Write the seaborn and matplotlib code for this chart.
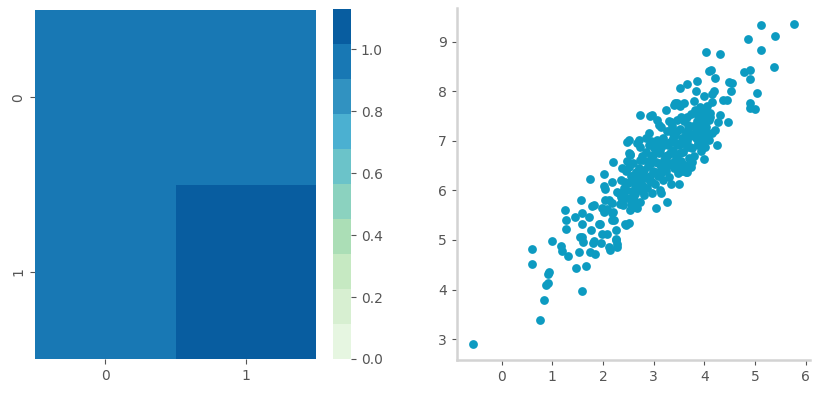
import numpy as np
import matplotlib
matplotlib.use("Agg")
import matplotlib.pyplot as plt
import seaborn as sns

# covariance-like 2x2 matrix shown on the left
MATRIX = [[0.98, 0.95],
          [0.95, 1.13]]
MATRIX_LABELS = ["0", "1"]

# scatter points: outer / sparse points
X_EDGE = [-0.57, 0.75, 0.84, 0.88, 0.92, 0.93, 0.91, 1.58, 0.59, 0.59, 0.99, 1.18, 1.19, 1.31,
          1.46, 1.66, 1.52, 1.56, 1.26, 1.28, 1.28, 1.44, 1.59, 1.58, 1.54, 1.60, 1.76, 1.80,
          1.75, 1.85, 1.72, 1.79, 1.93, 1.98, 2.08, 1.96, 2.11, 2.13, 2.25, 2.26, 2.28, 2.21,
          2.19, 2.08, 1.98, 2.05, 2.18, 2.04, 1.75, 2.46, 2.51, 2.02, 2.20, 2.53, 1.82, 2.02,
          2.02, 1.95, 2.18, 2.18, 2.11, 2.18, 2.28, 1.59, 1.82, 2.25, 2.28, 2.51, 2.68, 2.51,
          2.91, 3.04, 3.27, 3.50, 3.99, 4.26, 3.66, 3.14, 2.81, 2.44, 2.74, 2.61, 2.35, 4.09,
          4.22, 4.78, 4.91, 4.91, 5.05, 4.91, 4.91, 4.49, 4.55, 4.52, 4.19, 4.36, 4.44, 4.16,
          3.99, 3.83, 3.86, 3.66, 3.53, 3.79, 3.24, 2.93, 2.74, 3.47, 3.96, 4.12, 4.32, 4.47,
          4.03, 3.10, 5.11, 5.77, 4.86, 5.40, 5.11, 5.38, 4.03, 4.32, 4.14, 5.01, 3.40, 3.53,
          2.97, 2.48, 2.71, 2.94, 2.54, 3.07, 3.14, 3.34, 3.43, 3.60, 3.66, 4.09, 4.16, 3.73,
          3.63, 4.16, 4.02, 4.12]
Y_EDGE = [2.90, 3.39, 3.78, 4.10, 4.13, 4.35, 4.32, 3.98, 4.81, 4.51, 4.97, 4.87, 4.78, 4.67,
          4.44, 4.47, 4.76, 5.81, 5.60, 5.41, 5.23, 5.47, 5.54, 5.33, 5.06, 4.96, 5.21, 4.94,
          4.76, 4.72, 5.47, 5.68, 5.33, 5.13, 5.13, 4.94, 4.86, 4.79, 5.21, 4.99, 4.91, 5.41,
          5.57, 5.62, 5.64, 5.81, 5.74, 6.02, 6.23, 5.30, 5.34, 6.33, 6.57, 6.74, 5.70, 6.08,
          5.57, 5.33, 5.54, 5.40, 5.81, 6.18, 5.97, 5.05, 4.98, 5.01, 4.86, 7.02, 6.96, 6.75,
          7.16, 5.64, 5.77, 6.13, 6.63, 6.92, 6.38, 5.94, 5.91, 5.33, 5.77, 5.67, 5.87, 8.41,
          8.27, 8.39, 8.44, 8.24, 7.97, 7.77, 7.67, 8.18, 8.17, 8.00, 8.00, 7.83, 7.83, 7.78,
          7.90, 8.00, 8.20, 8.14, 8.07, 7.80, 7.63, 7.50, 7.53, 7.77, 7.63, 7.56, 7.53, 7.39,
          7.02, 7.33, 9.33, 9.36, 9.05, 9.11, 8.83, 8.50, 8.79, 8.75, 8.43, 7.65, 7.73, 7.70,
          7.53, 6.97, 7.02, 6.99, 6.72, 7.43, 7.29, 7.39, 7.77, 7.77, 7.49, 7.02, 7.16, 6.48,
          6.38, 7.94, 7.57, 7.49]

# dense core of the cloud
X_CORE = [2.32, 2.36, 2.40, 2.42, 2.45, 2.48, 2.50, 2.53, 2.55, 2.57, 2.60, 2.62, 2.64, 2.66,
          2.68, 2.70, 2.34, 2.38, 2.47, 2.58, 2.63, 2.69, 2.41, 2.52,
          2.72, 2.74, 2.76, 2.78, 2.80, 2.82, 2.84, 2.86, 2.88, 2.90, 2.92, 2.94, 2.96, 2.98,
          3.00, 3.02, 3.04, 3.06, 3.08, 3.10, 3.12, 3.14, 3.16, 3.18, 3.20, 2.75, 2.85, 2.95,
          3.05, 3.15, 2.79, 2.93, 3.11,
          3.22, 3.24, 3.26, 3.28, 3.30, 3.32, 3.34, 3.36, 3.38, 3.40, 3.42, 3.44, 3.46, 3.48,
          3.50, 3.52, 3.54, 3.56, 3.58, 3.60, 3.62, 3.64, 3.66, 3.68, 3.70, 3.25, 3.35, 3.45,
          3.55, 3.65, 3.31, 3.49,
          3.72, 3.74, 3.76, 3.78, 3.80, 3.82, 3.84, 3.86, 3.88, 3.90, 3.92, 3.94, 3.96, 3.98,
          4.00, 4.02, 4.04, 4.06, 4.08, 4.10, 3.81, 3.93, 3.97, 3.75, 4.28, 4.22,
          2.38, 2.44, 2.56, 2.61, 2.67, 2.73, 2.81, 2.87, 2.91, 2.99, 3.03, 3.09, 3.13, 3.19,
          3.23, 3.29, 3.33, 3.39, 3.43, 3.47, 3.53, 3.57, 3.61, 3.67, 3.71, 3.77, 3.83, 3.87,
          3.91, 3.99, 4.03, 2.46, 2.77, 2.97, 3.17, 3.37, 3.57, 3.85, 2.59, 3.27]
Y_CORE = [5.95, 6.22, 5.70, 6.05, 6.40, 5.85, 6.15, 5.60, 6.30, 5.98, 6.55, 5.80, 6.10, 6.38,
          5.65, 6.02, 5.72, 6.45, 6.60, 6.20, 5.92, 6.25, 5.88, 6.48,
          6.45, 6.88, 6.15, 5.98, 6.62, 6.30, 6.78, 6.05, 6.50, 6.92, 6.20, 6.70, 5.95, 6.40,
          6.85, 6.12, 6.58, 7.02, 6.30, 6.75, 6.00, 6.48, 6.90, 6.22, 6.62, 6.35, 7.05, 6.55,
          6.88, 6.35, 6.08, 6.30, 6.95,
          6.95, 6.40, 7.20, 6.72, 6.28, 6.98, 6.55, 7.30, 6.82, 6.45, 7.12, 6.68, 7.42, 6.35,
          6.92, 7.25, 6.60, 7.05, 6.78, 7.40, 6.52, 7.15, 6.88, 7.32, 6.65, 6.60, 6.12, 6.95,
          7.48, 7.00, 7.40, 6.50,
          7.10, 7.55, 6.85, 7.30, 6.70, 7.62, 7.05, 7.40, 6.92, 7.20, 7.68, 6.80, 7.35, 7.10,
          7.50, 6.88, 7.28, 7.70, 7.15, 7.42, 7.15, 6.98, 7.58, 6.58, 7.38, 7.22,
          5.78, 6.18, 5.72, 6.32, 6.12, 6.62, 6.42, 6.25, 6.60, 6.72, 6.38, 6.55, 6.82, 7.05,
          6.70, 6.92, 6.75, 7.05, 6.60, 7.20, 6.75, 6.95, 7.10, 7.25, 6.88, 7.12, 7.30, 6.95,
          7.45, 7.25, 7.40, 6.00, 6.70, 6.18, 6.45, 7.18, 6.40, 7.55, 5.90, 6.50]

POINT_COLOR = "#0d9bc1"

sns.set_theme(style="ticks")
plt.rcParams.update({
    "font.family": ["DejaVu Sans"],
    "font.size": 10,
    "xtick.labelsize": 10,
    "ytick.labelsize": 10,
    "xtick.color": "#555555",
    "ytick.color": "#555555",
    "text.color": "#555555",
    "xtick.major.size": 3.5,
    "ytick.major.size": 3.5,
    "xtick.major.width": 0.8,
    "ytick.major.width": 0.8,
    "axes.edgecolor": "#d3d3d3",
})

fig = plt.figure(figsize=(8.19, 3.93), dpi=100)
W, H = 819, 393
ax_hm = fig.add_axes([35 / W, 34 / H, 281 / W, 349 / H])
ax_cb = fig.add_axes([333 / W, 34 / H, 18 / W, 350 / H])
ax_sc = fig.add_axes([456.7 / W, 33 / H, 353.3 / W, 352 / H])

# left: discrete GnBu heatmap
sns.heatmap(np.array(MATRIX), cmap=sns.color_palette("GnBu", 10), vmin=0,
            xticklabels=MATRIX_LABELS, yticklabels=MATRIX_LABELS,
            ax=ax_hm, cbar_ax=ax_cb)
ax_hm.tick_params(axis="y", rotation=90)
ax_cb.tick_params(length=3.5)

# right: scatter
xs = X_EDGE + X_CORE
ys = Y_EDGE + Y_CORE
sns.scatterplot(x=xs, y=ys, color=POINT_COLOR, s=40, linewidth=0, alpha=1, ax=ax_sc)
sns.despine(ax=ax_sc)
for side in ("left", "bottom"):
    ax_sc.spines[side].set_linewidth(1.8)
    ax_sc.spines[side].set_color("#d3d3d3")

fig.savefig("out.png", dpi=100)
plt.close(fig)
